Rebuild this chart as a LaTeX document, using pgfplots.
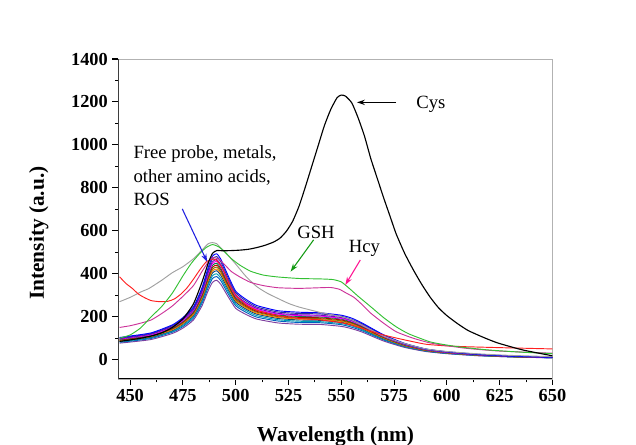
\documentclass[border=0pt]{standalone}
\usepackage{pgfplots}
\pgfplotsset{compat=1.18}
\usepackage{pgfplotstable}
\usepackage{fontspec}
\setmainfont{Liberation Serif}
\usetikzlibrary{arrows.meta}

\definecolor{cA}{HTML}{7F3F9F}
\definecolor{cB}{HTML}{0060C0}
\definecolor{cC}{HTML}{00A0B0}
\definecolor{cD}{HTML}{004080}
\definecolor{cE}{HTML}{FF8000}
\definecolor{cF}{HTML}{808000}
\definecolor{cG}{HTML}{C00000}
\definecolor{cH}{HTML}{008040}
\definecolor{cI}{HTML}{FF00FF}
\definecolor{cJ}{HTML}{8000C0}
\definecolor{cK}{HTML}{3030A0}
\definecolor{cL}{HTML}{0000FF}
\definecolor{gshc}{HTML}{33C033}
\definecolor{hcyc}{HTML}{CC3399}
\definecolor{redc}{HTML}{FF2020}
\definecolor{grayc}{HTML}{A0A0A0}
\definecolor{arrblue}{HTML}{2020E0}
\definecolor{arrgreen}{HTML}{119911}
\definecolor{arrpink}{HTML}{FF1493}

\pgfplotstableread{
x c1 c2 c3 c4 c5 c6 c7 c8 c9 c10 c11 c12
445 77 81 84 86 88 90 92 94 96 98 100 103
450 82 86 89 92 94 96 98 100 102 104 107 110
460 94 99 102 105 108 110 112 114 116 119 122 125
470 122 128 132 136 139 142 145 148 151 154 158 162
475 147 154 159 165 168 172 175 179 182 186 191 196
480 185 194 200 207 211 216 220 224 229 233 240 246
484 250 262 271 280 286 292 298 304 310 316 325 334
487 322 337 349 360 368 376 384 392 399 407 418 430
489 360 378 391 404 413 421 430 439 447 456 469 482
491 370 387 400 414 422 431 440 449 458 466 480 493
493 350 367 379 392 400 408 417 425 434 442 455 467
496 300 314 325 336 343 350 357 364 371 378 389 400
500 239 251 259 268 274 279 285 291 296 302 311 319
505 210 220 228 235 240 245 250 255 260 265 273 280
510 189 198 205 212 216 221 225 230 234 239 245 252
520 171 180 186 192 196 200 204 208 212 216 222 228
530 165 173 179 185 189 193 197 201 205 209 215 221
540 164 172 177 183 187 191 195 199 203 207 213 218
550 155 163 168 174 178 181 185 189 192 196 202 207
555 144 151 157 162 165 169 172 175 179 182 187 193
560 128 134 138 143 146 149 152 155 158 161 166 170
570 87 92 95 98 100 102 104 106 108 110 113 116
580 57 60 62 64 65 67 68 69 71 72 74 76
590 38 40 41 42 43 44 45 46 47 48 49 50
600 28 29 30 31 32 32 33 34 34 35 36 37
615 18 19 20 21 21 22 22 22 23 23 24 25
630 13 13 14 14 14 15 15 15 16 16 16 17
650 8 9 9 9 10 10 10 10 10 11 11 11
}\bundle

\begin{document}
\begin{tikzpicture}
\begin{axis}[
  scale only axis,
  width=325.5pt, height=240pt,
  xmin=444.5, xmax=650, ymin=-90, ymax=1400,
  xtick={450,475,...,650},
  ytick={0,200,...,1400},
  minor x tick num=1, minor y tick num=1,
  tick pos=left,
  tick align=outside,
  major tick length=4.5pt, minor tick length=2.6pt,
  every tick/.style={black, line width=0.8pt},
  axis line style={draw=gray!60, line width=0.4pt},
  /pgf/number format/assume math mode=true,
  /pgf/number format/1000 sep={},
  ticklabel style={font=\bfseries\fontsize{13.75}{16}\selectfont},
  xlabel={Wavelength (nm)},
  ylabel={Intensity (a.u.)},
  label style={font=\bfseries\fontsize{16}{19}\selectfont},
  xlabel style={at={(axis description cs:0.5,-0.1954)}, anchor=base},
  ylabel style={at={(axis description cs:-0.1717,0.456)}, anchor=base},
  every axis plot/.append style={line width=0.7pt, smooth, tension=0.35},
]
\coordinate (sw) at (rel axis cs:0,0);
\addplot[cA] table[x=x,y=c1]{\bundle};
\addplot[cB] table[x=x,y=c2]{\bundle};
\addplot[cC] table[x=x,y=c3]{\bundle};
\addplot[cD] table[x=x,y=c4]{\bundle};
\addplot[cE] table[x=x,y=c5]{\bundle};
\addplot[cF] table[x=x,y=c6]{\bundle};
\addplot[cG] table[x=x,y=c7]{\bundle};
\addplot[cH] table[x=x,y=c8]{\bundle};
\addplot[cI] table[x=x,y=c9]{\bundle};
\addplot[cJ] table[x=x,y=c10]{\bundle};
\addplot[cK] table[x=x,y=c11]{\bundle};
\addplot[cL] table[x=x,y=c12]{\bundle};
% gray
\addplot[grayc] coordinates {(445,270)(450,290)(455,315)(459,332)(465,370)(470,405)(475,433)(480,470)(484,510)(487,540)(489,545)(491,540)(493,520)(496,490)(500,445)(505,386)(510,340)(515,309)(520,285)(525,262)(530,245)(540,220)(550,200)(555,185)(560,160)(570,110)(580,75)(590,50)(600,38)(615,27)(630,20)(650,14)};
% red
\addplot[redc] coordinates {(445,386)(448,355)(451,332)(454,305)(457,288)(460,275)(464,270)(468,272)(471,283)(474,305)(477,335)(480,375)(483,418)(486,455)(489,468)(491,462)(494,420)(497,350)(500,300)(505,255)(510,230)(520,205)(530,192)(540,185)(550,172)(555,160)(560,145)(570,115)(580,92)(590,72)(600,64)(610,60)(625,56)(650,50)};
% Hcy
\addplot[hcyc] coordinates {(445,150)(450,158)(455,170)(460,185)(465,215)(470,250)(475,295)(480,345)(484,410)(487,455)(489,475)(492,468)(495,440)(498,410)(502,385)(507,360)(513,345)(520,335)(530,332)(540,335)(545,336)(549,328)(552,312)(556,290)(560,255)(564,216)(570,170)(576,130)(584,100)(592,78)(600,65)(610,52)(625,40)(650,30)};
% GSH
\addplot[gshc] coordinates {(445,100)(450,115)(455,148)(460,200)(465,248)(470,310)(475,390)(479,449)(483,495)(486,522)(489,536)(492,525)(495,500)(498,470)(502,440)(507,412)(513,394)(520,385)(530,378)(540,376)(546,373)(550,362)(554,330)(558,295)(564,246)(570,196)(576,153)(582,120)(592,83)(600,68)(608,57)(620,45)(635,35)(650,28)};
% Cys
\addplot[black, line width=0.85pt] coordinates {(445,85)(450,92)(455,100)(460,110)(465,125)(470,150)(475,190)(480,260)(484,360)(487,450)(489,495)(491,508)(494,507)(498,508)(502,510)(506,514)(510,522)(514,533)(518,548)(521,566)(524,598)(527,645)(530,715)(533,805)(536,900)(539,995)(542,1090)(545,1165)(548,1220)(550,1232)(552,1227)(555,1195)(558,1125)(561,1040)(564,935)(567,845)(570,755)(573,670)(576,585)(580,495)(584,420)(588,352)(592,292)(596,242)(600,205)(605,168)(610,136)(617,105)(624,78)(636,45)(650,18)};

% annotations
\begin{scope}[every node/.style={font=\fontsize{14}{17}\selectfont, inner sep=0pt}]
\node[anchor=base west] at (axis cs:451.5,939) {Free probe, metals,};
\node[anchor=base west] at (axis cs:451.5,825) {other amino acids,};
\node[anchor=base west] at (axis cs:451.5,718) {ROS};
\node[anchor=base] at (axis cs:538,565) {GSH};
\node[anchor=base] at (axis cs:560.9,497) {Hcy};
\node[anchor=base west] at (axis cs:585.4,1169) {Cys};
\end{scope}
\draw[arrblue, line width=0.8pt, -{Stealth[length=6pt,width=4pt]}] (axis cs:474.7,702) -- (axis cs:486.5,455);
\draw[arrgreen, line width=0.8pt, -{Stealth[length=6pt,width=4pt]}] (axis cs:536.9,558) -- (axis cs:526,410);
\draw[arrpink, line width=0.8pt, -{Stealth[length=6pt,width=4pt]}] (axis cs:559,464) -- (axis cs:551.9,348);
\draw[black, line width=0.8pt, -{Stealth[length=6pt,width=4pt]}] (axis cs:576,1198) -- (axis cs:557.4,1198);
\draw[black, line width=1.1pt] (rel axis cs:0,1) -- (rel axis cs:0,0) -- (rel axis cs:1,0);
\end{axis}
\pgfresetboundingbox
\path[use as bounding box] ([shift={(-88.875pt,-49.5pt)}]sw) rectangle ([shift={(388.125pt,284.25pt)}]sw);
\end{tikzpicture}
\end{document}
